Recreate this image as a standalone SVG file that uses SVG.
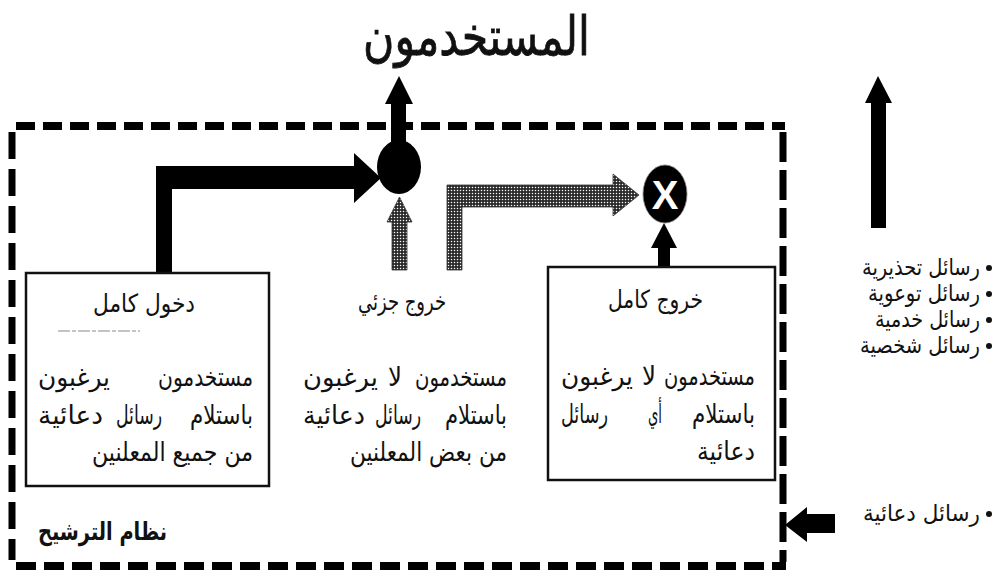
<svg xmlns="http://www.w3.org/2000/svg" width="1004" height="580" viewBox="0 0 1004 580">
<style>
  .t { font-family: "DejaVu Sans", "Noto Sans", sans-serif; fill: #111; }
  .body { font-size: 26px; }
  .head { font-size: 25px; }
  .list { font-size: 23px; }
  .box { fill: #fff; stroke: #111; stroke-width: 2.5; }
  .solid { fill: #000; }
  .dots { fill: url(#stip); stroke: #333; stroke-width: 0.8; }
  .border { fill: none; stroke: #000; }
  .bullet { fill: #111; }
</style>
<defs>
  <pattern id="stip" width="3" height="3" patternUnits="userSpaceOnUse">
    <rect width="3" height="3" fill="#2a2a2a"/>
    <circle cx="1.5" cy="1.5" r="0.75" fill="#fff"/>
  </pattern>
</defs>
<rect width="1004" height="580" fill="#fff"/>

<g id="border">
  <line class="border" x1="16" y1="126" x2="785" y2="126" stroke-width="8" stroke-dasharray="19 8"/>
  <line class="border" x1="12" y1="132" x2="12" y2="560" stroke-width="7" stroke-dasharray="27 10"/>
  <line class="border" x1="16" y1="566" x2="786" y2="566" stroke-width="8" stroke-dasharray="20 8"/>
  <line class="border" x1="783" y1="132" x2="783" y2="562" stroke-width="7" stroke-dasharray="30 8"/>
  <text class="t" x="38" y="540" font-size="25" font-weight="bold" textLength="129" lengthAdjust="spacingAndGlyphs">نظام الترشيح</text>
</g>

<g id="connectors">
  <polygon class="solid" points="156,273 156,166 354,166 354,153 381,178 354,203 354,189 172,189 172,273"/>
  <polygon class="solid" points="391,150 391,104 385,104 399,76 413,104 406,104 406,150"/>
  <polygon class="dots" points="392,270 392,222 387,222 399.5,197 412,222 407,222 407,270"/>
  <polygon class="dots" points="447,270 447,185 613,185 613,174 639,195 613,216 613,207 462,207 462,270"/>
  <polygon class="solid" points="658,267 658,248 651,248 664,223 677,248 670,248 670,267"/>
  <polygon class="solid" points="871,228 871,103 865,103 878,76 892,103 886,103 886,228"/>
  <polygon class="solid" points="835,514 807,514 807,507 785,525 807,542 807,533 835,533"/>
</g>

<g id="title">
  <text class="t" x="363" y="55" font-size="54" stroke="#111" stroke-width="0.8" textLength="227" lengthAdjust="spacingAndGlyphs">المستخدمون</text>
</g>

<g id="merge">
  <ellipse cx="399" cy="167" rx="22" ry="27" fill="#000"/>
</g>

<g id="block">
  <ellipse cx="665" cy="194" rx="22" ry="29" fill="#000" stroke="#888" stroke-width="0.8"/>
  <text x="665" y="209" font-family="Liberation Sans, Arial, sans-serif" font-weight="bold" font-size="40" fill="#fff" text-anchor="middle">X</text>
</g>

<g id="full-entry">
  <rect class="box" x="26" y="273" width="243" height="213"/>
  <text class="t head" x="93" y="312" textLength="102" lengthAdjust="spacingAndGlyphs">دخول كامل</text>
  <line x1="58" y1="331" x2="140" y2="331" stroke="#888" stroke-width="1" stroke-dasharray="12 2 4 2"/>
  <text class="t body" x="158" y="386" textLength="95" lengthAdjust="spacingAndGlyphs">مستخدمون</text>
  <text class="t body" x="38" y="386" textLength="72" lengthAdjust="spacingAndGlyphs">يرغبون</text>
  <text class="t body" x="190" y="424" textLength="63" lengthAdjust="spacingAndGlyphs">باستلام</text>
  <text class="t body" x="116" y="424" textLength="46" lengthAdjust="spacingAndGlyphs">رسائل</text>
  <text class="t body" x="38" y="424" textLength="65" lengthAdjust="spacingAndGlyphs">دعائية</text>
  <text class="t body" x="92" y="461" textLength="161" lengthAdjust="spacingAndGlyphs">من جميع المعلنين</text>
</g>

<g id="partial-exit">
  <text class="t head" x="358" y="310" textLength="88" lengthAdjust="spacingAndGlyphs">خروج جزئي</text>
  <text class="t body" x="415" y="386" textLength="92" lengthAdjust="spacingAndGlyphs">مستخدمون</text>
  <text class="t body" x="388" y="386" textLength="14" lengthAdjust="spacingAndGlyphs">لا</text>
  <text class="t body" x="303" y="386" textLength="75" lengthAdjust="spacingAndGlyphs">يرغبون</text>
  <text class="t body" x="445" y="424" textLength="62" lengthAdjust="spacingAndGlyphs">باستلام</text>
  <text class="t body" x="375" y="424" textLength="46" lengthAdjust="spacingAndGlyphs">رسائل</text>
  <text class="t body" x="303" y="424" textLength="62" lengthAdjust="spacingAndGlyphs">دعائية</text>
  <text class="t body" x="350" y="461" textLength="157" lengthAdjust="spacingAndGlyphs">من بعض المعلنين</text>
</g>

<g id="full-exit">
  <rect class="box" x="548" y="267" width="227" height="213"/>
  <text class="t head" x="608" y="308" textLength="95" lengthAdjust="spacingAndGlyphs">خروج كامل</text>
  <text class="t body" x="664" y="385" textLength="91" lengthAdjust="spacingAndGlyphs">مستخدمون</text>
  <text class="t body" x="642" y="385" textLength="14" lengthAdjust="spacingAndGlyphs">لا</text>
  <text class="t body" x="561" y="385" textLength="72" lengthAdjust="spacingAndGlyphs">يرغبون</text>
  <text class="t body" x="692" y="423" textLength="63" lengthAdjust="spacingAndGlyphs">باستلام</text>
  <text class="t body" x="648" y="423" textLength="14" lengthAdjust="spacingAndGlyphs">أي</text>
  <text class="t body" x="561" y="423" textLength="47" lengthAdjust="spacingAndGlyphs">رسائل</text>
  <text class="t body" x="697" y="460" textLength="58" lengthAdjust="spacingAndGlyphs">دعائية</text>
</g>

<g id="allowed-list">
  <circle class="bullet" cx="989" cy="268" r="3"/>
  <text class="t list" x="862" y="275" textLength="118" lengthAdjust="spacingAndGlyphs">رسائل تحذيرية</text>
  <circle class="bullet" cx="989" cy="294" r="3"/>
  <text class="t list" x="868" y="301" textLength="112" lengthAdjust="spacingAndGlyphs">رسائل توعوية</text>
  <circle class="bullet" cx="989" cy="320" r="3"/>
  <text class="t list" x="875" y="327" textLength="105" lengthAdjust="spacingAndGlyphs">رسائل خدمية</text>
  <circle class="bullet" cx="989" cy="346" r="3"/>
  <text class="t list" x="860" y="353" textLength="120" lengthAdjust="spacingAndGlyphs">رسائل شخصية</text>
</g>

<g id="ads-input">
  <circle class="bullet" cx="989" cy="514" r="3"/>
  <text class="t list" x="863" y="521" textLength="117" lengthAdjust="spacingAndGlyphs">رسائل دعائية</text>
</g>
</svg>
